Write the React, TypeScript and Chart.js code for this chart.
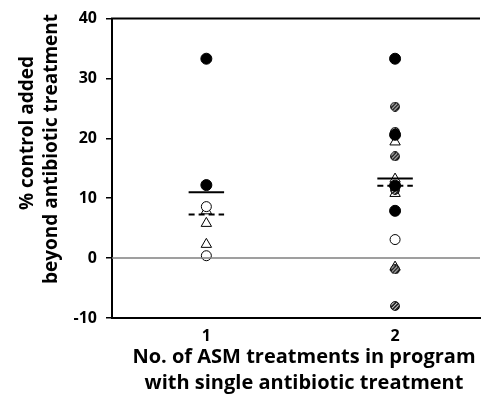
import React, { useEffect, useRef } from "react";
import { Chart, registerables } from "chart.js";

Chart.register(...registerables);

// ---- data ----
const categories = [1, 2];
const xTickLabels = ["1", "2"];
const yTicks = [-10, 0, 10, 20, 30, 40];

const filledCircles1 = [33.3, 12.2];
const filledCircles2 = [33.3, 20.6, 12.1, 7.9];
const openCircles1 = [8.6, 0.4];
const openCircles2 = [3.1];
const hatchedCircles1: number[] = [];
const hatchedCircles2 = [25.3, 21.1, 17.0, 11.4, -1.9, -8.0];
const triangles1 = [7.9, 5.8, 2.3];
const triangles2 = [19.4, 13.2, 10.8, -1.5];
const meanSolid = [11.0, 13.3];
const meanDashed = [7.3, 12.1];

const yTitle = ["% control added", "beyond antibiotic treatment"];
const xTitle = ["No. of ASM treatments in program", "with single antibiotic treatment"];

const FONT = "'Open Sans', 'Liberation Sans', sans-serif";

function pts(values: number[], x: number) {
  return values.map((y) => ({ x, y }));
}

function makeHatched(): HTMLCanvasElement {
  const c = document.createElement("canvas");
  const s = 10;
  c.width = s;
  c.height = s;
  const ctx = c.getContext("2d")!;
  ctx.save();
  ctx.beginPath();
  ctx.arc(s / 2, s / 2, s / 2 - 0.6, 0, Math.PI * 2);
  ctx.fillStyle = "#fff";
  ctx.fill();
  ctx.clip();
  ctx.strokeStyle = "#111";
  ctx.lineWidth = 1.7;
  for (let k = -s; k < 2 * s; k += 3.6) {
    ctx.beginPath();
    ctx.moveTo(k, s);
    ctx.lineTo(k + s, 0);
    ctx.stroke();
  }
  ctx.restore();
  ctx.beginPath();
  ctx.arc(s / 2, s / 2, s / 2 - 0.6, 0, Math.PI * 2);
  ctx.strokeStyle = "#000";
  ctx.lineWidth = 1;
  ctx.stroke();
  return c;
}

const frame = {
  id: "frame",
  afterDraw(chart: any) {
    const { ctx, chartArea } = chart;
    ctx.save();
    ctx.strokeStyle = "#000";
    ctx.lineWidth = 2;
    ctx.beginPath();
    ctx.moveTo(chartArea.left - 1, chartArea.top);
    ctx.lineTo(chartArea.right, chartArea.top);
    ctx.stroke();

    ctx.fillStyle = "#000";
    ctx.textAlign = "center";
    ctx.textBaseline = "middle";
    ctx.font = `bold 19px ${FONT}`;
    ctx.save();
    ctx.translate(28, 133);
    ctx.rotate(-Math.PI / 2);
    ctx.fillText(yTitle[0], 0, 0);
    ctx.restore();
    ctx.save();
    ctx.translate(52, 149);
    ctx.rotate(-Math.PI / 2);
    ctx.fillText(yTitle[1], 0, 0);
    ctx.restore();

    ctx.font = `bold 20px ${FONT}`;
    ctx.fillText(xTitle[0], 304, 357);
    ctx.fillText(xTitle[1], 304, 383);
    ctx.restore();
  },
};

export default function App() {
  const ref = useRef<HTMLCanvasElement>(null);
  useEffect(() => {
    document.body.style.margin = "0";
    const hatch = makeHatched();
    const [c1, c2] = categories;
    const half = 0.094;
    const lineSet = (vals: number[], dashed: boolean) =>
      categories.map((c, i) => ({
        type: "line" as const,
        data: [
          { x: c - half, y: vals[i] },
          { x: c + half, y: vals[i] },
        ],
        borderColor: "#000",
        borderWidth: 2,
        borderDash: dashed ? [6, 4] : [],
        pointRadius: 0,
        showLine: true,
      }));
    const chart = new Chart(ref.current!, {
      type: "scatter",
      data: {
        datasets: [
          {
            type: "line",
            data: [
              { x: 0.5, y: 0 },
              { x: 2.45, y: 0 },
            ],
            borderColor: "#7f7f7f",
            borderWidth: 1.5,
            pointRadius: 0,
            showLine: true,
          } as any,
          {
            data: [...pts(filledCircles1, c1), ...pts(filledCircles2, c2)],
            pointStyle: "circle",
            pointRadius: 5.5,
            backgroundColor: "#000",
            borderColor: "#000",
            borderWidth: 1,
          },
          {
            data: [...pts(openCircles1, c1), ...pts(openCircles2, c2)],
            pointStyle: "circle",
            pointRadius: 5,
            backgroundColor: "#fff",
            borderColor: "#000",
            borderWidth: 1,
          },
          {
            data: [...pts(hatchedCircles1, c1), ...pts(hatchedCircles2, c2)],
            pointStyle: hatch,
            pointRadius: 5,
          },
          {
            data: [...pts(triangles1, c1), ...pts(triangles2, c2)],
            pointStyle: "triangle",
            pointRadius: 6,
            backgroundColor: "rgba(255,255,255,0)",
            borderColor: "#000",
            borderWidth: 1,
          },
          ...lineSet(meanSolid, false),
          ...lineSet(meanDashed, true),
        ] as any,
      },
      options: {
        animation: false,
        responsive: false,
        events: [],
        layout: { padding: { top: 16, right: 1, left: 0, bottom: 0 } },
        plugins: { legend: { display: false }, tooltip: { enabled: false } },
        scales: {
          x: {
            type: "linear",
            min: 0.5,
            max: 2.45,
            afterFit: (s: any) => {
              s.height = 83;
            },
            afterBuildTicks: (s: any) => {
              s.ticks = categories.map((v) => ({ value: v }));
            },
            grid: { display: false },
            border: { display: true, color: "#000", width: 2 },
            ticks: {
              color: "#000",
              font: { family: FONT, size: 16, weight: "bold" },
              padding: 1,
              callback: (v: any) => xTickLabels[categories.indexOf(Number(v))] ?? "",
            },
          },
          y: {
            min: -10,
            max: 40,
            afterFit: (s: any) => {
              s.width = 112;
            },
            afterBuildTicks: (s: any) => {
              s.ticks = yTicks.map((v) => ({ value: v }));
            },
            grid: {
              drawOnChartArea: false,
              drawTicks: true,
              tickLength: 6,
              color: "#000",
              lineWidth: 1.5,
            },
            border: { display: true, color: "#000", width: 2 },
            ticks: {
              color: "#000",
              font: { family: FONT, size: 16, weight: "bold" },
              padding: 9,
            },
          },
        },
      },
      plugins: [frame],
    } as any);
    return () => chart.destroy();
  }, []);
  return (
    <div style={{ width: 487, height: 401 }}>
      <canvas ref={ref} width={487} height={401} style={{ display: "block" }} />
    </div>
  );
}
